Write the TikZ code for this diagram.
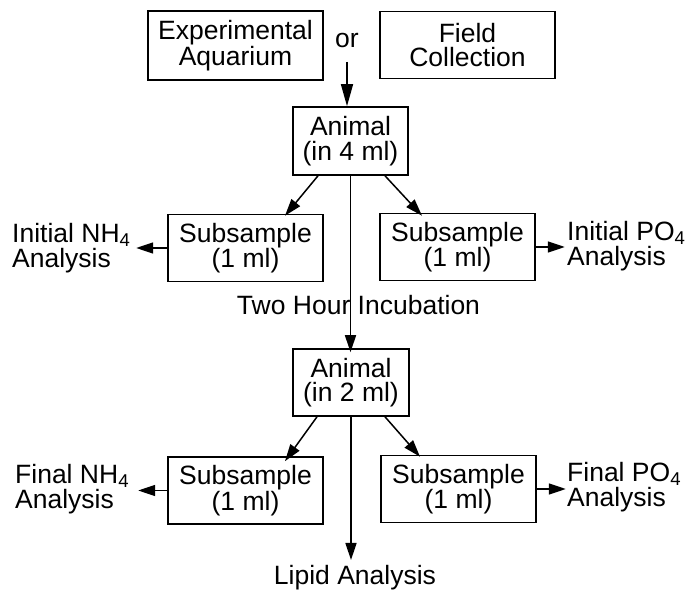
\documentclass[tikz,border=0pt]{standalone}
\usepackage{fontspec}
\setmainfont{Liberation Sans}
\usetikzlibrary{arrows.meta}
\tikzset{
  boxnode/.style={draw, line width=1.6pt, align=center, inner sep=0pt, minimum width=155pt, minimum height=67pt},
  txt/.style={align=left, inner sep=0pt},
  arr/.style={line width=1.5pt, -{Triangle[length=17pt,width=11pt]}},
}
\begin{document}
\begin{tikzpicture}[x=1pt,y=-1pt,font=\fontsize{26.5}{24.5}\selectfont]
\useasboundingbox (0,0) rectangle (697,593);
% top
\node[boxnode, minimum width=175pt, minimum height=69pt] (exp) at (235.5,45.5) {Experimental\\Aquarium};
\node[boxnode, minimum width=175pt, minimum height=67pt] (field) at (467.5,45) {Field\\Collection};
\node[inner sep=0pt] (or) at (347,41) {or};
\coordinate (orstart) at (347,62);
% animal 1
\node[boxnode, minimum width=115pt, minimum height=68pt] (an1) at (350.5,141) {Animal\\(in 4 ml)};
\draw[arr, -{Triangle[length=22pt,width=12pt]}] (orstart) -- (orstart |- an1.north);
% subsamples 1
\node[boxnode] (s1l) at (245.5,248) {Subsample\\(1 ml)};
\node[boxnode] (s1r) at (457.5,247) {Subsample\\(1 ml)};
\node[txt, anchor=west] (inh) at (12,248) {Initial NH\textsubscript{4}\\Analysis};
\node[txt, anchor=west] (ipo) at (567,246) {Initial PO\textsubscript{4}\\Analysis};
\draw[arr] ([xshift=-32.5pt]an1.south) -- ([xshift=39.5pt,yshift=-2pt]s1l.north);
\draw[arr] ([xshift=34.5pt]an1.south) -- ([xshift=-35.5pt,yshift=-3pt]s1r.north);
\draw[arr] (s1l.west) -- ++(-31,0);
\draw[arr] (s1r.east) -- ++(29,0);
% incubation
\node[inner sep=0pt] (inc) at (358.5,305) {Two Hour Incubation};
\node[boxnode, minimum width=116pt, minimum height=67pt] (an2) at (351,382.5) {Animal\\(in 2 ml)};
\draw[arr] (an1.south) -- ([yshift=-4pt]an1.south |- an2.north);
% subsamples 2
\node[boxnode] (s2l) at (245.5,490.5) {Subsample\\(1 ml)};
\node[boxnode] (s2r) at (458.5,489) {Subsample\\(1 ml)};
\node[txt, anchor=west] (fnh) at (15,489) {Final NH\textsubscript{4}\\Analysis};
\node[txt, anchor=west] (fpo) at (567,487) {Final PO\textsubscript{4}\\Analysis};
\draw[arr] ([xshift=-34pt]an2.south) -- ([xshift=39.5pt,yshift=-5pt]s2l.north);
\draw[arr] ([xshift=34pt]an2.south) -- ([xshift=-38.5pt,yshift=-2pt]s2r.north);
\draw[arr] (s2l.west) -- ++(-29,0);
\draw[arr] (s2r.east) -- ++(29,0);
% lipid
\node[inner sep=0pt] (lip) at (355,578) {Lipid Analysis};
\coordinate (lipend) at (351,560);
\draw[arr] (an2.south) -- (an2.south |- lipend);
\end{tikzpicture}
\end{document}
